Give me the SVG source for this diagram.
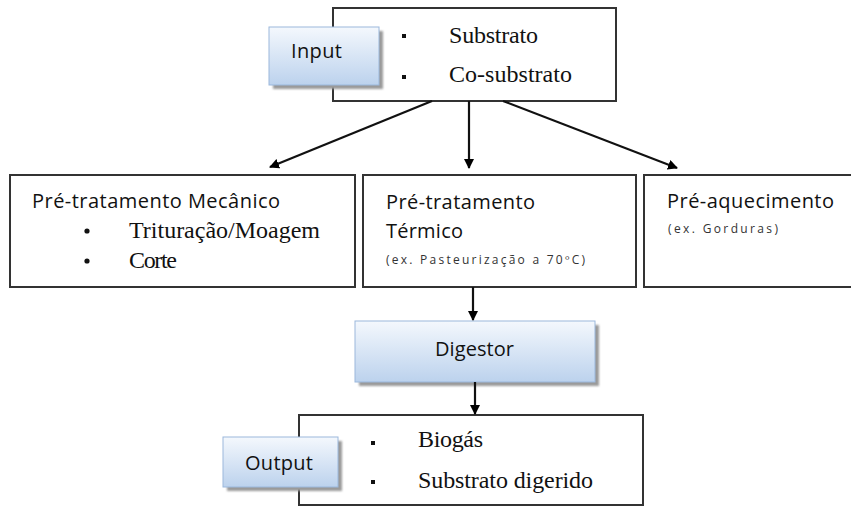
<svg xmlns="http://www.w3.org/2000/svg" width="851" height="508" viewBox="0 0 851 508">
<defs>
<linearGradient id="btn" x1="0" y1="0" x2="0" y2="1">
<stop offset="0" stop-color="#f4f8fd"/>
<stop offset="1" stop-color="#bcd2ed"/>
</linearGradient>
<filter id="sh" x="-10%" y="-10%" width="130%" height="140%">
<feGaussianBlur stdDeviation="1.2"/>
</filter>
<marker id="ah" markerWidth="10" markerHeight="10" refX="9" refY="5" orient="auto" markerUnits="userSpaceOnUse">
<path d="M0,0 L10,5 L0,10 Z" fill="#000"/>
</marker>
</defs>
<style>
.box{fill:#fff;stroke:#333;stroke-width:2}
.btn{fill:url(#btn);stroke:#9bb8dc;stroke-width:1}
.shd{fill:#9a9a9a;filter:url(#sh)}
.sans{font-family:"Open Sans","Noto Sans","DejaVu Sans",sans-serif;fill:#111;font-size:20px}
.small{font-family:"Open Sans","Noto Sans","DejaVu Sans",sans-serif;fill:#333;font-size:12px}
.serif{font-family:"Liberation Serif","DejaVu Serif",serif;fill:#111;font-size:24px}
.edge{stroke:#111;stroke-width:2.2;fill:none;marker-end:url(#ah)}
</style>
<rect width="851" height="508" fill="#fff"/>

<g id="input">
<rect class="box" x="333" y="8" width="283" height="93"/>
<rect class="shd" x="273" y="31" width="110" height="58"/>
<rect class="btn" x="269" y="27" width="110" height="58"/>
<text class="sans" x="316.5" y="58" text-anchor="middle" textLength="51">Input</text>
<rect x="402" y="34" width="4" height="4" fill="#111"/>
<rect x="402" y="75" width="4" height="4" fill="#111"/>
<text class="serif" x="449" y="43" textLength="89">Substrato</text>
<text class="serif" x="449" y="82" textLength="123">Co-substrato</text>
</g>

<g id="mecanico">
<rect class="box" x="10" y="175" width="345" height="112"/>
<text class="sans" x="32" y="208" textLength="248">Pré-tratamento Mecânico</text>
<circle cx="87" cy="231" r="2.6" fill="#111"/>
<circle cx="87" cy="261" r="2.6" fill="#111"/>
<text class="serif" x="129" y="238" textLength="191">Trituração/Moagem</text>
<text class="serif" x="129" y="268" textLength="48">Corte</text>
</g>

<g id="termico">
<rect class="box" x="363" y="175" width="273" height="112"/>
<text class="sans" x="386" y="209" textLength="149">Pré-tratamento</text>
<text class="sans" x="386" y="238" textLength="77">Térmico</text>
<text class="small" x="386" y="264" textLength="199" lengthAdjust="spacing">(ex. Pasteurização a 70ºC)</text>
</g>

<g id="aquecimento">
<rect class="box" x="644" y="175" width="215" height="112"/>
<text class="sans" x="667" y="208" textLength="167">Pré-aquecimento</text>
<text class="small" x="668" y="233" textLength="110" lengthAdjust="spacing">(ex. Gorduras)</text>
</g>

<g id="digestor">
<rect class="shd" x="359" y="325" width="240" height="61"/>
<rect class="btn" x="355" y="321" width="240" height="61"/>
<text class="sans" x="474.5" y="356" text-anchor="middle" textLength="79">Digestor</text>
</g>

<g id="output">
<rect class="box" x="299" y="415" width="344" height="90"/>
<rect class="shd" x="227" y="441" width="115" height="50"/>
<rect class="btn" x="223" y="437" width="115" height="50"/>
<text class="sans" x="279" y="470" text-anchor="middle" textLength="68">Output</text>
<rect x="371" y="441" width="4" height="4" fill="#111"/>
<rect x="371" y="480" width="4" height="4" fill="#111"/>
<text class="serif" x="418" y="447" textLength="65">Biogás</text>
<text class="serif" x="418" y="488" textLength="175">Substrato digerido</text>
</g>

<g id="connectors">
<line class="edge" x1="432" y1="101" x2="270" y2="167"/>
<line class="edge" x1="469" y1="101" x2="469" y2="168"/>
<line class="edge" x1="503" y1="101" x2="677" y2="168"/>
<line class="edge" x1="473" y1="287" x2="473" y2="320"/>
<line class="edge" x1="475" y1="382" x2="475" y2="414"/>
</g>
</svg>
